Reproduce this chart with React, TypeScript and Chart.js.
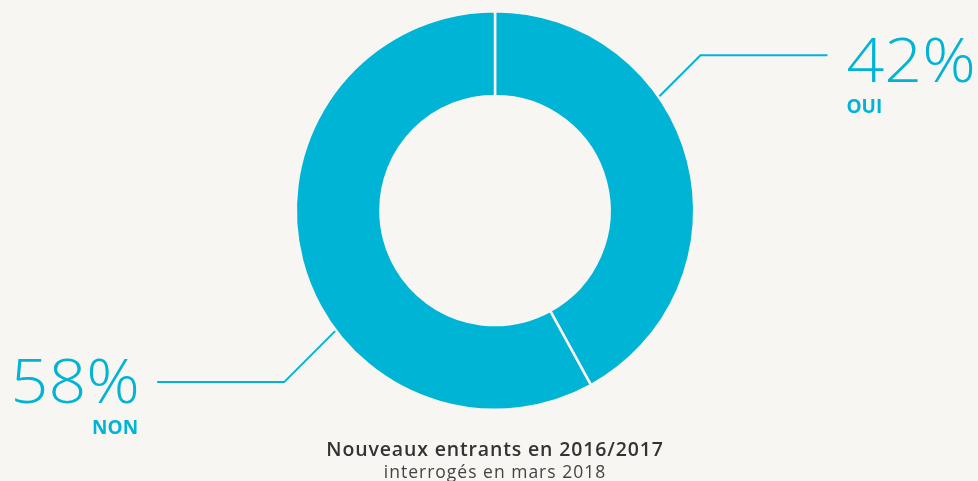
import React, { useEffect, useRef } from "react";
import { Chart, registerables } from "chart.js";

Chart.register(...registerables);

const categories = ["OUI", "NON"];
const values = [42, 58];
const valueLabels = ["42%", "58%"];
const titleText = "Nouveaux entrants en 2016/2017";
const subtitleText = "interrogés en mars 2018";

const BG = "#f8f6f2";
const CYAN = "#00b4d6";

const labelPlugin = {
  id: "leaderLabels",
  afterDraw(chart: any) {
    const ctx = chart.ctx;
    const meta = chart.getDatasetMeta(0);
    const angleShift = [0.356, 0.395];
    const diag = [41, 51];
    const horiz = [127, 127];
    ctx.save();
    meta.data.forEach((arc: any, i: number) => {
      const p = arc.getProps(["x", "y", "startAngle", "endAngle", "outerRadius"], true);
      const mid = (p.startAngle + p.endAngle) / 2;
      const theta = mid - angleShift[i];
      const r = p.outerRadius + 1;
      const sx = p.x + r * Math.cos(theta);
      const sy = p.y + r * Math.sin(theta);
      const dirX = Math.cos(theta) >= 0 ? 1 : -1;
      const dirY = Math.sin(theta) >= 0 ? 1 : -1;
      const ex = sx + dirX * diag[i];
      const ey = sy + dirY * diag[i];
      const hx = ex + dirX * horiz[i];
      ctx.strokeStyle = CYAN;
      ctx.lineWidth = 2;
      ctx.beginPath();
      ctx.moveTo(sx, sy);
      ctx.lineTo(ex, ey);
      ctx.lineTo(hx, ey);
      ctx.stroke();
      const tx = hx + dirX * 19;
      ctx.textAlign = dirX > 0 ? "left" : "right";
      ctx.textBaseline = "alphabetic";
      ctx.fillStyle = CYAN;
      const vb = ey + (dirY < 0 ? 27 : 21);
      ctx.save();
      ctx.translate(tx, vb);
      ctx.scale(1.105, 1);
      ctx.font = "300 60px 'Open Sans'";
      ctx.fillText(valueLabels[i], dirX > 0 ? 0 : 1.5, 0);
      ctx.restore();
      ctx.font = "700 19px 'Open Sans'";
      ctx.fillText(categories[i], tx + (dirX > 0 ? 0 : 0), vb + 31);
    });
    const cx = (chart.chartArea.left + chart.chartArea.right) / 2;
    ctx.textAlign = "center";
    ctx.fillStyle = "#333333";
    ctx.font = "600 19.5px 'Open Sans'";
    (ctx as any).letterSpacing = "0.85px";
    ctx.fillText(titleText, cx, 456);
    ctx.fillStyle = "#444444";
    ctx.font = "400 17.5px 'Open Sans'";
    (ctx as any).letterSpacing = "1px";
    ctx.fillText(subtitleText, cx, 478);
    ctx.restore();
  },
};

export default function App() {
  const ref = useRef<HTMLCanvasElement | null>(null);
  useEffect(() => {
    document.body.style.margin = "0";
    document.body.style.background = BG;
    const chart = new Chart(ref.current as HTMLCanvasElement, {
      type: "doughnut",
      data: {
        labels: categories,
        datasets: [
          {
            data: values,
            backgroundColor: CYAN,
            borderColor: BG,
            borderWidth: 2.5,
            hoverOffset: 0,
          },
        ],
      },
      options: {
        animation: false,
        responsive: false,
        cutout: "57.5%",
        layout: { padding: { top: 10, bottom: 70, left: 12, right: 0 } },
        plugins: {
          legend: { display: false },
          tooltip: { enabled: false },
        },
      },
      plugins: [labelPlugin],
    });
    return () => chart.destroy();
  }, []);
  return (
    <div style={{ position: "fixed", left: 0, top: 0, width: 978, height: 481, background: BG }}>
      <canvas ref={ref} width={978} height={481} style={{ display: "block" }} />
    </div>
  );
}
